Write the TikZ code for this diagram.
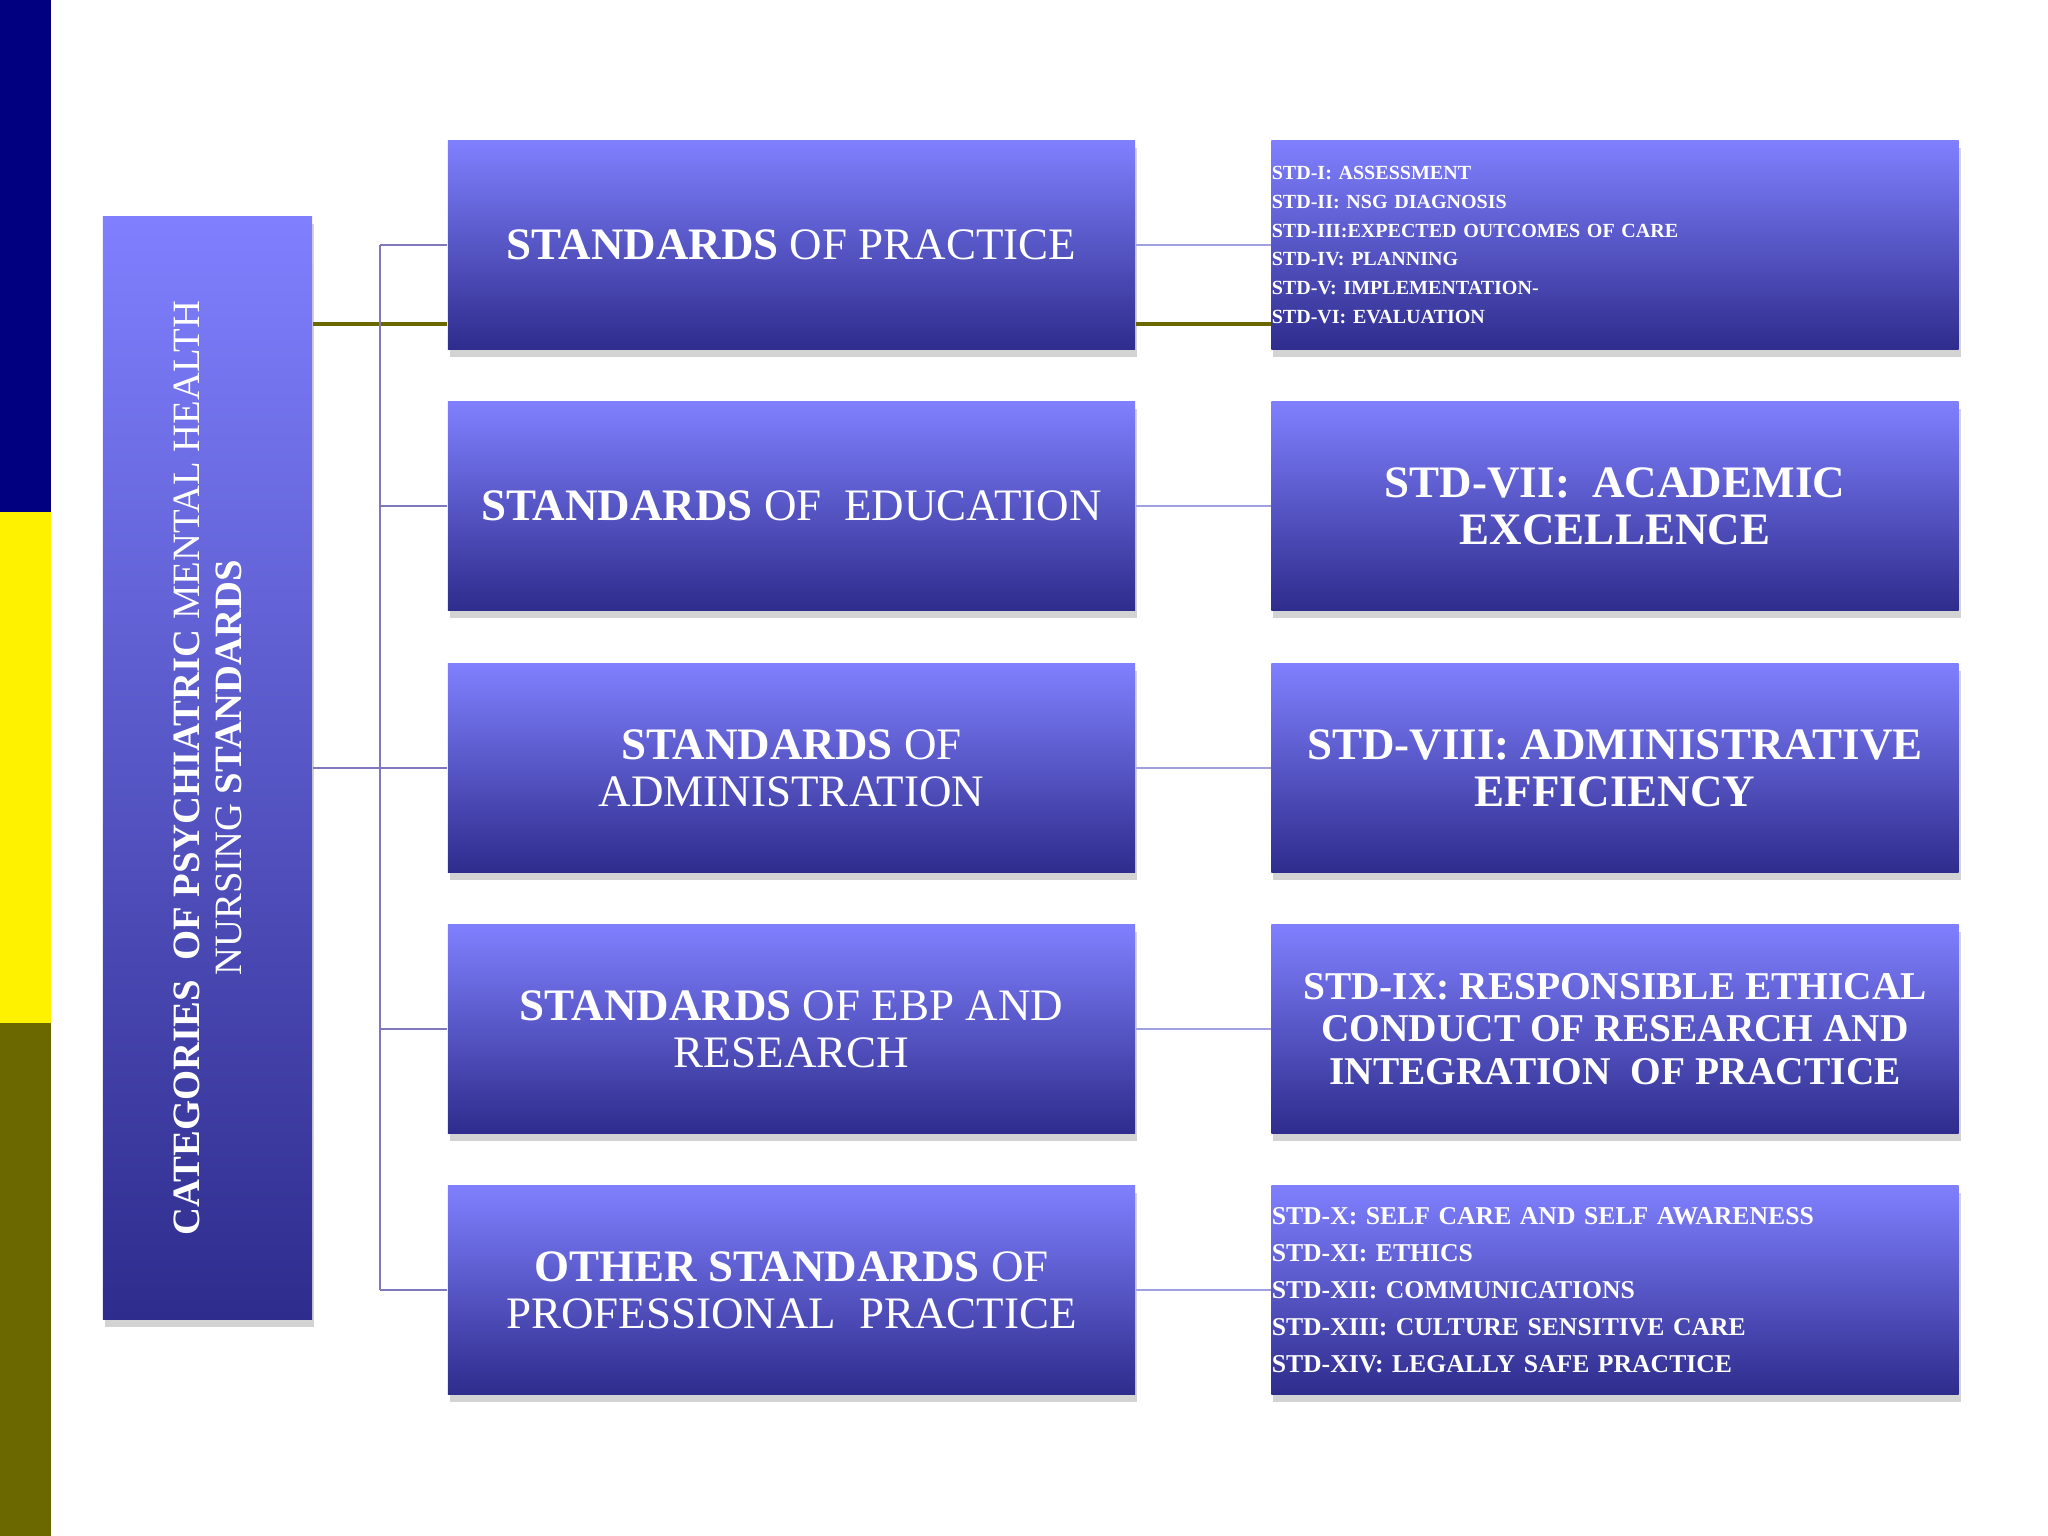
\documentclass[tikz,border=0pt]{standalone}
\usepackage{fontspec}
\setmainfont{Liberation Serif}
\usetikzlibrary{shadows}

\definecolor{boxtop}{RGB}{128,128,255}
\definecolor{boxbot}{RGB}{46,44,140}
\definecolor{treeline}{RGB}{128,120,190}
\definecolor{linkline}{RGB}{160,160,225}
\definecolor{barnavy}{RGB}{0,0,128}
\definecolor{barolive}{RGB}{107,104,0}

\begin{document}
\begin{tikzpicture}[x=0.01cm,y=-0.01cm]
\tikzset{
    stdbox/.style={top color=boxtop, bottom color=boxbot, text=white,
        minimum width=6.87cm, minimum height=2.09cm, align=center,
        drop shadow={shadow xshift=0.6pt, shadow yshift=-2.2pt, opacity=0.35}},
    listbox/.style={stdbox, align=left, text width=6.86cm, inner xsep=0pt},
    big/.style={font=\fontsize{12.8}{13.4}\selectfont},
    bigbold/.style={font=\bfseries\fontsize{12.8}{13.4}\selectfont}
}
\useasboundingbox (0,0) rectangle (2048,1536);

% side bar
\fill[barnavy] (0,0) rectangle (51,512);
\fill[yellow] (0,512) rectangle (51,1023);
\fill[barolive] (0,1023) rectangle (51,1536);

\node[stdbox, minimum width=2.09cm, minimum height=11.02cm] (cat) at (207.5,768) {};
\node[rotate=90, text=white, align=center, font=\fontsize{11}{12}\selectfont] (cattext) at (cat.center)
    {\textbf{CATEGORIES\ \ OF PSYCHIATRIC} MENTAL HEALTH\\NURSING \textbf{STANDARDS}};

\node[stdbox, big] (p1) at (791.5,245) {\textbf{STANDARDS} OF PRACTICE};
\node[stdbox, big] (p2) at (791.5,506) {\textbf{STANDARDS} OF\ \ EDUCATION};
\node[stdbox, big] (p3) at (791.5,768) {\textbf{STANDARDS} OF\\ADMINISTRATION};
\node[stdbox, big] (p4) at (791.5,1029) {\textbf{STANDARDS} OF EBP AND\\RESEARCH};
\node[stdbox, big] (p5) at (791.5,1290) {\textbf{OTHER STANDARDS} OF\\PROFESSIONAL\ \ PRACTICE};

\node[listbox, font=\bfseries\fontsize{5.7}{8.2}\selectfont] (s1) at (1615,245)
    {STD-I: ASSESSMENT\\STD-II: NSG DIAGNOSIS\\STD-III:EXPECTED OUTCOMES OF CARE\\
     STD-IV: PLANNING\\STD-V: IMPLEMENTATION-\\STD-VI: EVALUATION};
\node[stdbox, bigbold] (s2) at (1615,506) {STD-VII:\ \ ACADEMIC\\EXCELLENCE};
\node[stdbox, bigbold] (s3) at (1615,768) {STD-VIII: ADMINISTRATIVE\\EFFICIENCY};
\node[stdbox, font=\bfseries\fontsize{11.2}{12}\selectfont] (s4) at (1615,1029)
    {STD-IX:\ RESPONSIBLE ETHICAL\\CONDUCT OF RESEARCH AND\\INTEGRATION\ \ OF PRACTICE};
\node[listbox, font=\bfseries\fontsize{7.3}{10.5}\selectfont] (s5) at (1615,1290)
    {STD-X: SELF CARE AND SELF AWARENESS\\STD-XI: ETHICS\\STD-XII: COMMUNICATIONS\\
     STD-XIII: CULTURE SENSITIVE CARE\\STD-XIV: LEGALLY SAFE PRACTICE};

% connectors
\coordinate (trunk) at (380,768);
\coordinate (olive) at (0,324);
\draw[barolive, line width=1pt] (cat.east |- olive) -- (p1.west |- olive);
\draw[barolive, line width=1pt] (p1.east |- olive) -- (s1.west |- olive);
\draw[treeline, line width=0.6pt] (cat.east) -- (trunk);
\draw[treeline, line width=0.6pt] (p1.west -| trunk) -- (p5.west -| trunk);
\foreach \i in {1,...,5} {
    \draw[treeline, line width=0.6pt] (p\i.west -| trunk) -- (p\i.west);
    \draw[linkline, line width=0.6pt] (p\i.east) -- (s\i.west);
}
\end{tikzpicture}
\end{document}
